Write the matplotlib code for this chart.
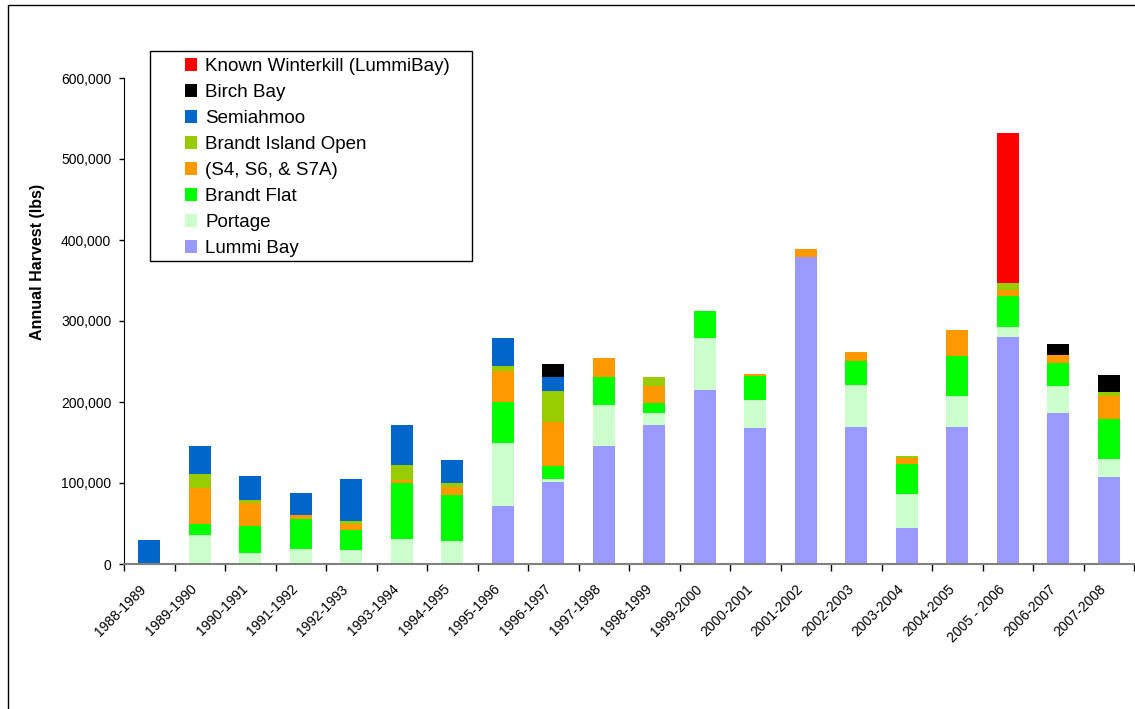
import numpy as np
import matplotlib
matplotlib.use("Agg")
import matplotlib.pyplot as plt
from matplotlib.patches import Rectangle

plt.rcParams['font.family'] = ['Liberation Sans', 'DejaVu Sans']

# Seasons
seasons = ['1988-1989', '1989-1990', '1990-1991', '1991-1992', '1992-1993',
           '1993-1994', '1994-1995', '1995-1996', '1996-1997', '1997-1998',
           '1998-1999', '1999-2000', '2000-2001', '2001-2002', '2002-2003',
           '2003-2004', '2004-2005', '2005 - 2006', '2006-2007', '2007-2008']

# Harvest by area (lbs), stacked bottom to top
lummi_bay = [0, 0, 0, 0, 0, 0, 0, 71600, 100900, 146000, 171200, 214800,
             167900, 378400, 169500, 44800, 169500, 280200, 186400, 107000]
portage = [0, 35800, 13600, 18500, 17300, 30900, 28400, 77800, 4000, 50300,
           15200, 64200, 34600, 0, 51500, 41600, 37900, 12400, 33700, 22600]
brandt_flat = [0, 13600, 33700, 37100, 25000, 69100, 56800, 51000, 16500, 34600,
               12400, 33400, 30000, 0, 29600, 37400, 49800, 38700, 28100, 49400]
s4_s6_s7a = [0, 44800, 28000, 4900, 7500, 4100, 9900, 37900, 54300, 23400,
             21300, 0, 2100, 10500, 11100, 7400, 31700, 7400, 9800, 28800]
brandt_island = [0, 16900, 3700, 0, 3300, 18100, 4900, 6500, 37900, 0,
                 10800, 0, 0, 0, 0, 2100, 0, 8200, 0, 4500]
semiahmoo = [30000, 34600, 29600, 27200, 51800, 49400, 28400, 34200, 17300, 0,
             0, 0, 0, 0, 0, 0, 0, 0, 0, 0]
birch_bay = [0, 0, 0, 0, 0, 0, 0, 0, 16000, 0,
             0, 0, 0, 0, 0, 0, 0, 0, 13600, 21000]
winterkill = [0, 0, 0, 0, 0, 0, 0, 0, 0, 0,
              0, 0, 0, 0, 0, 0, 0, 185600, 0, 0]

series = [
    ('Lummi Bay', lummi_bay, '#9999FF'),
    ('Portage', portage, '#CCFFCC'),
    ('Brandt Flat', brandt_flat, '#00FF00'),
    ('(S4, S6, & S7A)', s4_s6_s7a, '#FF9900'),
    ('Brandt Island Open', brandt_island, '#99CC00'),
    ('Semiahmoo', semiahmoo, '#0066CC'),
    ('Birch Bay', birch_bay, '#000000'),
    ('Known Winterkill (LummiBay)', winterkill, '#FF0000'),
]

W, H = 1135, 709
fig = plt.figure(figsize=(W / 100, H / 100), dpi=100)
ax = fig.add_axes([124 / W, 1 - 564 / H, 1010 / W, 486 / H])

x = np.arange(len(seasons))
bottom = np.zeros(len(seasons))
handles = []
for name, vals, color in series:
    vals = np.array(vals, dtype=float)
    b = ax.bar(x, vals, width=0.44, bottom=bottom, color=color, label=name,
               edgecolor='none', zorder=2)
    handles.append(b)
    bottom += vals

ax.set_xlim(-0.5, len(seasons) - 0.5)
ax.set_ylim(0, 600000)
ax.set_yticks(np.arange(0, 600001, 100000))
ax.yaxis.set_major_formatter(matplotlib.ticker.FuncFormatter(lambda v, p: f'{int(v):,}'))
ax.tick_params(axis='y', labelsize=10, length=3.6, width=1, direction='out', pad=5.5)

# category boundary ticks, labels at centres
ax.set_xticks(np.arange(-0.5, len(seasons), 1.0))
ax.set_xticklabels([])
ax.tick_params(axis='x', which='major', length=5, width=1, color='black', direction='out')
ax.set_xticks(x, minor=True)
ax.set_xticklabels(seasons, minor=True, rotation=45, ha='right', va='top',
                   fontsize=10)
ax.tick_params(axis='x', which='minor', length=0, pad=13)

for s in ['top', 'right']:
    ax.spines[s].set_visible(False)
ax.spines['left'].set_color('black')
ax.spines['bottom'].set_color('#808080')
ax.spines['bottom'].set_linewidth(1.5)

ax.set_ylabel('Annual Harvest (lbs)', fontsize=11.5, fontweight='bold')
ax.yaxis.set_label_coords((45 - 124) / 1010, (564 - 262) / 486)

leg = fig.legend(handles[::-1], [s[0] for s in series][::-1],
                 loc='upper left', bbox_to_anchor=(185 / W, 1 - 58 / H),
                 bbox_transform=fig.transFigure, fontsize=13.5, frameon=False,
                 borderaxespad=0, borderpad=0,
                 handlelength=0.64, handleheight=0.64, handletextpad=0.45,
                 labelspacing=0.48)

# legend frame
fig.patches.append(Rectangle((150 / W, 1 - 261 / H), 322 / W, 210 / H,
                             transform=fig.transFigure, fill=False,
                             edgecolor='black', linewidth=1.0))

# outer chart border
fig.patches.append(Rectangle((8 / W, -0.01), 1.1, 1 - 5 / H + 0.01,
                             transform=fig.transFigure, fill=False,
                             edgecolor='black', linewidth=1.0))

fig.savefig('out.png', dpi=100)
